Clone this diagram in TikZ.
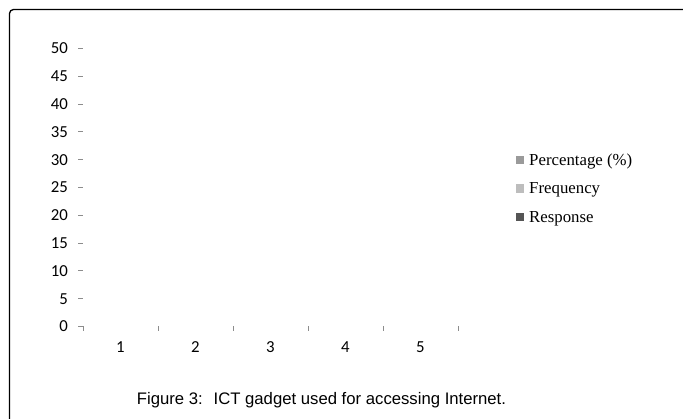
\documentclass[tikz,border=0pt]{standalone}
\usepackage{fontspec}
\setmainfont{Liberation Serif}
\newfontfamily\axisfont{Carlito}
\newfontfamily\capfont{Liberation Sans}
\definecolor{tickgray}{HTML}{8C8C8C}
\definecolor{pctgray}{HTML}{9A9A9A}
\definecolor{freqgray}{HTML}{BDBDBD}
\definecolor{respgray}{HTML}{555555}
\tikzset{
  axislabel/.style={inner sep=0pt, font=\axisfont\fontsize{16.8}{18}\selectfont},
  legendtext/.style={inner sep=0pt, anchor=base west, font=\fontsize{16.8}{18}\selectfont},
  legendkey/.style={minimum size=8.5pt, inner sep=0pt, outer sep=0pt},
  tickmark/.style={draw=tickgray, line width=0.9pt},
}
\begin{document}
\begin{tikzpicture}[x=1pt,y=-1pt]
  \useasboundingbox (0,0) rectangle (683,419);
  % outer frame, running off the right and bottom edges
  \draw[line width=1.3pt, rounded corners=4pt] (9.5,425) -- (9.5,9.5) -- (690,9.5);

  % value axis: labels and ticks
  \foreach \v [count=\i from 0] in {0,5,...,50} {
    \pgfmathsetmacro{\yy}{326.5-27.8*\i}
    \node[axislabel, anchor=east] (ylab\i) at (68,\yy) {\v};
  }
  \foreach \i in {1,...,10} {
    \pgfmathsetmacro{\yy}{326.5-27.8*\i}
    \draw[tickmark] (78,\yy) -- (83,\yy);
  }
  % corner tick at the origin
  \draw[tickmark] (78,326.5) -- (83,326.5) -- (83,331.5);

  % category axis: ticks and labels
  \foreach \i in {1,...,5} {
    \draw[tickmark] (83+75*\i,326.5) -- (83+75*\i,331.5);
    \node[axislabel] (xlab\i) at (45.5+75*\i,347.5) {\i};
  }

  % legend
  \node[legendkey, fill=pctgray]  (keyA) at (520.2,160) {};
  \node[legendtext] (legA) at (529,165.7) {Percentage (\%)};
  \node[legendkey, fill=freqgray] (keyB) at (520.2,188.5) {};
  \node[legendtext] (legB) at (529,194) {Frequency};
  \node[legendkey, fill=respgray] (keyC) at (520.2,217) {};
  \node[legendtext] (legC) at (529,222.3) {Response};

  % caption
  \node[inner sep=0pt, font=\capfont\fontsize{16.7}{18}\selectfont] (caption) at (321.5,400)
    {Figure 3:~ ICT gadget used for accessing Internet.};
\end{tikzpicture}
\end{document}
